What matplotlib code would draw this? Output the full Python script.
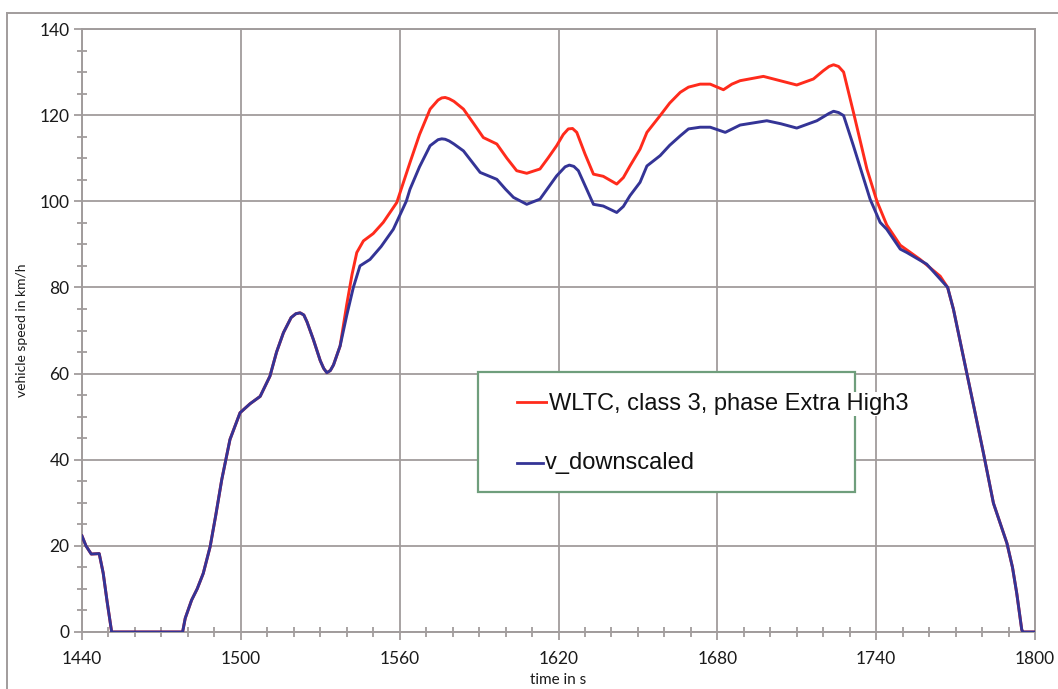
import matplotlib
matplotlib.use("Agg")
import matplotlib.pyplot as plt
from matplotlib.ticker import MultipleLocator
from matplotlib.lines import Line2D
from matplotlib.patches import Rectangle

# ---- data ----
t_common = [1440, 1441.5, 1443.5, 1446.5, 1448, 1449.5, 1451.2, 1478, 1479, 1481.4,
            1483.5, 1485.8, 1488.4, 1490.5, 1492.8, 1495.9, 1499.7, 1503.5, 1507.3,
            1511, 1513.5, 1516.1, 1519, 1520.8, 1522.4, 1523.8, 1525, 1527.4, 1530,
            1531.3, 1532.5, 1533.8, 1535, 1537.5]
v_common = [22.3, 20, 18.1, 18.2, 13.7, 7, 0, 0, 3.2, 7.4,
            10, 13.6, 19.8, 27, 35.4, 44.7, 50.9, 53, 54.7,
            59.4, 65, 69.5, 73, 73.9, 74.1, 73.6, 72, 67.9, 63,
            61.2, 60.2, 60.7, 62, 66.4]

t_wltc_hi = [1540, 1542, 1543.8, 1546.3, 1550, 1553.8, 1558.9, 1563.9, 1567.5, 1571.5,
             1574.5, 1575.9, 1577.2, 1578.7, 1580.5, 1584.1, 1588, 1591.6, 1596.7, 1600.5,
             1604.2, 1608, 1613, 1616, 1619.3, 1621.8, 1623.7, 1625.3, 1626.9, 1630,
             1633.2, 1636.9, 1642, 1644.5, 1647, 1650.8, 1653.4, 1658.4, 1662, 1666,
             1669.1, 1673.5, 1677.3, 1682.3, 1685.5, 1688.6, 1693, 1697.4, 1703.7, 1710,
             1716.3, 1720, 1722.2, 1723.9, 1725.8, 1727.7, 1731.4, 1736.5, 1740.3, 1744,
             1749.1, 1756.6, 1764.2]
v_wltc_hi = [76, 83, 88.1, 90.8, 92.5, 95.1, 99.7, 109, 115.5, 121.4,
             123.5, 124.0, 124.1, 123.8, 123.2, 121.4, 118, 114.8, 113.3, 110,
             107.1, 106.5, 107.5, 110, 112.9, 115.5, 116.8, 116.9, 116, 111,
             106.3, 105.8, 104, 105.5, 108.2, 112.1, 116, 119.9, 122.8, 125.3,
             126.5, 127.2, 127.2, 125.9, 127.2, 128, 128.5, 129, 128, 127,
             128.4, 130.3, 131.3, 131.7, 131.3, 130, 120.7, 107.5, 100, 94.5,
             89.8, 86.5, 82.6]

t_down_hi = [1540, 1542.5, 1545, 1548.8, 1553, 1557.6, 1562.5, 1563.9, 1567.5, 1571.5,
             1574.5, 1575.9, 1577.2, 1578.7, 1580.5, 1584.1, 1590.4, 1596.7, 1600, 1603,
             1608, 1613, 1619.3, 1622.5, 1624.1, 1625.8, 1627.5, 1630.5, 1633.2, 1636.9,
             1642, 1644.5, 1647, 1650.8, 1653.4, 1658.4, 1662, 1666, 1669.1, 1673.5,
             1677.3, 1683, 1688.6, 1698.7, 1704, 1710, 1717.6, 1722.2, 1723.9, 1725.8,
             1727.7, 1731.4, 1737.7, 1741.5, 1744, 1749.1, 1751.6, 1759.1, 1765.4]
v_down_hi = [73.5, 80, 85, 86.5, 89.5, 93.5, 100, 102.8, 108, 112.9,
             114.3, 114.5, 114.4, 114.0, 113.3, 111.7, 106.7, 105.1, 102.8, 100.9,
             99.3, 100.5, 105.9, 108.0, 108.4, 108.1, 107.1, 103, 99.3, 98.9,
             97.4, 98.8, 101.3, 104.4, 108.2, 110.6, 113, 115.2, 116.8, 117.2,
             117.2, 116, 117.7, 118.7, 118, 117, 118.7, 120.4, 120.9, 120.6,
             119.9, 112.9, 100.5, 95.1, 93.5, 88.9, 88.1, 85.4, 81.1]

t_end = [1767, 1769.2, 1774.2, 1777, 1780.5, 1784.3, 1789.4, 1791.5, 1793.1, 1795, 1795.5, 1800]
v_end = [80, 74.9, 60.2, 52, 41.6, 29.9, 20.6, 15, 9, 0.5, 0, 0]

t_wltc = t_common + t_wltc_hi + t_end
v_wltc = v_common + v_wltc_hi + v_end
t_down = t_common + t_down_hi + t_end
v_down = v_common + v_down_hi + v_end

label_wltc = "WLTC, class 3, phase Extra High3"
label_down = "v_downscaled"
x_ticks = [1440, 1500, 1560, 1620, 1680, 1740, 1800]
y_ticks = [0, 20, 40, 60, 80, 100, 120, 140]

# ---- style ----
gray = "#a19c9c"
red = "#ff2b1c"
blue = "#343496"

fig = plt.figure(figsize=(10.58, 6.89), dpi=100)
ax = fig.add_axes([82/1058, 1-632/689, (1035-82)/1058, (632-29)/689])

ax.plot(t_wltc, v_wltc, color=red, lw=2.1, solid_joinstyle="round", zorder=3)
ax.plot(t_down, v_down, color=blue, lw=2.1, solid_joinstyle="round", zorder=4)

ax.set_xlim(1440, 1800)
ax.set_ylim(0, 140)
ax.set_xticks(x_ticks)
ax.set_yticks(y_ticks)
ax.xaxis.set_minor_locator(MultipleLocator(10))
ax.yaxis.set_minor_locator(MultipleLocator(5))
ax.grid(True, which="major", color=gray, lw=1.3, zorder=1)
for s in ax.spines.values():
    s.set_color(gray)
    s.set_linewidth(1.4)
ax.tick_params(which="major", direction="out", length=6, width=1.3, color=gray,
               labelsize=12.5, labelcolor="#1a1a1a", pad=3)
ax.tick_params(which="minor", direction="inout", length=7, width=1.3, color=gray)
ax.tick_params(axis="x", pad=8)
for lab in ax.get_xticklabels() + ax.get_yticklabels():
    lab.set_family("Lato")

ax.set_ylabel("vehicle speed in km/h", fontsize=10, family="Lato", color="#1a1a1a", labelpad=8)
ax.set_xlabel("time in s", fontsize=11, family="Lato", color="#1a1a1a", labelpad=4)

# legend box
def fx(px):
    return (px - 82) / (1035 - 82)

def fy(py):
    return (632 - py) / (632 - 29)

ax.add_patch(Rectangle((fx(478), fy(492)), fx(855) - fx(478), fy(372) - fy(492),
                       transform=ax.transAxes, facecolor="white", edgecolor="#6f9e7c",
                       lw=1.6, zorder=5))
ax.add_line(Line2D([fx(517), fx(547)], [fy(402), fy(402)], transform=ax.transAxes,
                   color=red, lw=2.0, zorder=6))
ax.add_line(Line2D([fx(517), fx(543)], [fy(463), fy(463)], transform=ax.transAxes,
                   color=blue, lw=2.0, zorder=6))
ax.text(fx(549), fy(404), label_wltc, transform=ax.transAxes, fontsize=17,
        family="Liberation Sans", va="center", ha="left", color="#111111", zorder=7,
        bbox=dict(facecolor="white", edgecolor="none", pad=0.5))
ax.text(fx(545), fy(463), label_down, transform=ax.transAxes, fontsize=17,
        family="Liberation Sans", va="center", ha="left", color="#111111", zorder=7)

# outer frame lines
fig.add_artist(Line2D([7/1058, 1.0], [1-13/689, 1-13/689], transform=fig.transFigure,
                      color=gray, lw=1.4))
fig.add_artist(Line2D([7/1058, 7/1058], [0, 1-13/689], transform=fig.transFigure,
                      color=gray, lw=1.4))

fig.savefig("out.png", dpi=100)
